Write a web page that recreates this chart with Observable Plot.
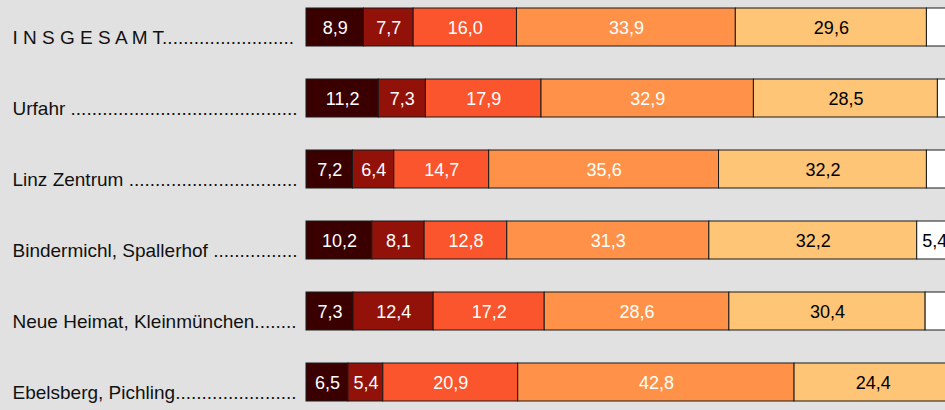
<!DOCTYPE html>
<html>
<head>
<meta charset="utf-8">
<script src="https://cdn.jsdelivr.net/npm/d3@7"></script>
<script src="https://cdn.jsdelivr.net/npm/@observablehq/plot@0.6"></script>
<style>
  html, body { margin: 0; padding: 0; background: #e1e1e1; overflow: hidden; }
</style>
</head>
<body>
<div id="chart"></div>
<script>
// Categories (as written in the reference, including spacing before leaders)
const regions = [
  "I N S G E S A M T",
  "Urfahr ",
  "Linz Zentrum ",
  "Bindermichl, Spallerhof ",
  "Neue Heimat, Kleinmünchen",
  "Ebelsberg, Pichling"
];

// Series values (percent), one array per stacked segment, in region order
const seg1 = [8.9, 11.2, 7.2, 10.2, 7.3, 6.5];
const seg2 = [7.7, 7.3, 6.4, 8.1, 12.4, 5.4];
const seg3 = [16.0, 17.9, 14.7, 12.8, 17.2, 20.9];
const seg4 = [33.9, 32.9, 35.6, 31.3, 28.6, 42.8];
const seg5 = [29.6, 28.5, 32.2, 32.2, 30.4, 24.4];
const seg6 = [3.9, 2.2, 3.9, 5.4, 4.1, 0.0];

const groups = ["g1", "g2", "g3", "g4", "g5", "g6"];
const series = [seg1, seg2, seg3, seg4, seg5, seg6];
const colors = ["#3a0000", "#921109", "#fa552d", "#ff9248", "#ffc576", "#ffffff"];
const lightText = new Set(["g1", "g2", "g3", "g4"]);

const rows = regions.flatMap((region, i) => {
  let acc = 0;
  return series.map((s, k) => {
    const v = s[i];
    const row = {region, group: groups[k], value: v, x1: acc, x2: acc + v};
    acc += v;
    return row;
  });
}).filter(d => d.value > 0);

const fontFamily = "'Liberation Sans', Arial, Helvetica, sans-serif";
const labelSize = 19;
const ctx = document.createElement("canvas").getContext("2d");
ctx.font = `${labelSize}px ${fontFamily}`;
function withLeader(label) {
  let s = label;
  while (ctx.measureText(s + ".").width <= 289) s += ".";
  return s;
}
const fmt = v => v.toFixed(1).replace(".", ",");

const chart = Plot.plot({
  width: 945,
  height: 410,
  marginLeft: 306,
  marginRight: 0,
  marginTop: 0,
  marginBottom: 0,
  style: {background: "#e1e1e1", fontFamily, overflow: "hidden"},
  x: {domain: [0, 100], range: [306, 951.6], axis: null},
  y: {domain: regions, range: [-9.7, 418.7], paddingInner: 0.46, paddingOuter: 0.23, align: 0.5, axis: null},
  color: {domain: groups, range: colors},
  marks: [
    Plot.barX(rows, {
      x1: "x1", x2: "x2", y: "region", fill: "group",
      stroke: "#1a1a1a", strokeWidth: 1, inset: 0
    }),
    Plot.text(rows, {
      filter: d => d.value >= 5,
      x: d => (d.x1 + d.x2) / 2, y: "region",
      text: d => fmt(d.value),
      fill: d => lightText.has(d.group) ? "white" : "black",
      fontSize: 18, dy: 1
    }),
    Plot.text(regions, {
      y: d => d,
      text: d => withLeader(d),
      frameAnchor: "left", dx: -294, textAnchor: "start",
      lineAnchor: "bottom", dy: 16,
      fontSize: labelSize, fill: "#111111"
    })
  ]
});
document.getElementById("chart").append(chart);
</script>
</body>
</html>
